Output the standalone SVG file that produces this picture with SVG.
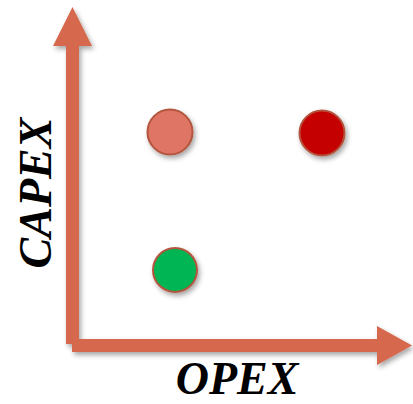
<svg xmlns="http://www.w3.org/2000/svg" width="413" height="404" viewBox="0 0 413 404">
  <defs>
    <filter id="shadow" x="-30%" y="-30%" width="160%" height="160%">
      <feDropShadow dx="2" dy="3" stdDeviation="2.5" flood-color="#000" flood-opacity="0.35"/>
    </filter>
    <style>
      .axis { fill: #D5674D; }
      .dot { stroke-width: 2; filter: url(#shadow); }
      .label { font-family: "Liberation Serif", "Times New Roman", serif; font-weight: bold; font-style: italic; font-size: 46px; fill: #000; }
    </style>
  </defs>
  <rect width="413" height="404" fill="#fff"/>

  <g id="connectors" filter="url(#shadow)">
    <!-- vertical axis arrow -->
    <path class="axis" d="M66,344 L66,46 L53,46 L72.5,7 L92,46 L79,46 L79,344 Z"/>
    <!-- horizontal axis arrow -->
    <path class="axis" d="M72,339 L377,339 L377,326 L412,345.5 L377,365 L377,352 L72,352 Z"/>
  </g>

  <g id="node-pink">
    <circle class="dot" cx="170" cy="132" r="22.5" fill="#DE7565" stroke="#B4553F"/>
  </g>
  <g id="node-red">
    <circle class="dot" cx="322" cy="133" r="22.5" fill="#C40000" stroke="#B4553F"/>
  </g>
  <g id="node-green">
    <circle class="dot" cx="175" cy="270" r="22" fill="#00B552" stroke="#B4553F"/>
  </g>

  <g id="label-capex">
    <text class="label" transform="translate(51,193) rotate(-90)" text-anchor="middle">CAPEX</text>
  </g>
  <g id="label-opex">
    <text class="label" x="237" y="394" text-anchor="middle">OPEX</text>
  </g>
</svg>
